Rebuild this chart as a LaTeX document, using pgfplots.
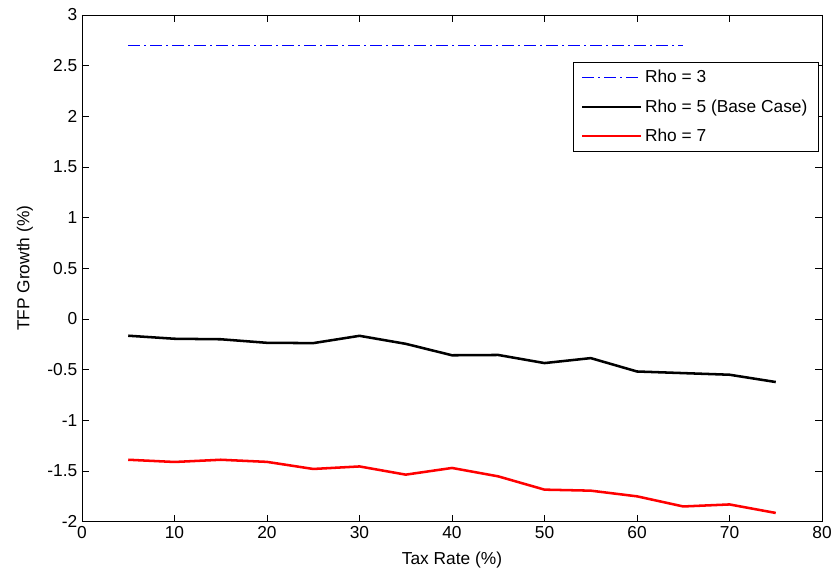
\documentclass[border=0pt]{standalone}
\usepackage{fontspec}
\setmainfont{Liberation Sans}
\usepackage{pgfplots}
\pgfplotsset{compat=1.18}
\usetikzlibrary{calc}
\definecolor{rhoblue}{RGB}{0,0,255}

\begin{document}
\begin{tikzpicture}
\begin{axis}[
    scale only axis,
    width=555pt, height=380pt,
    xmin=0, xmax=80, ymin=-2, ymax=3,
    xtick={0,10,...,80},
    ytick={-2,-1.5,...,3},
    yticklabels={-2,-1.5,-1,-0.5,0,0.5,1,1.5,2,2.5,3},
    tick align=inside,
    major tick length=5pt,
    axis line style={black, line width=0.6pt},
    every tick/.style={black, line width=0.6pt},
    tick label style={font=\fontsize{13}{15}\selectfont},
    /pgf/number format/assume math mode=true,
    xlabel={Tax Rate (\%)},
    ylabel={TFP Growth (\%)},
    label style={font=\fontsize{13}{15}\selectfont},
    xlabel style={yshift=-3pt},
    ylabel style={yshift=4pt},
    legend style={at={(0.995,0.907)}, anchor=north east, draw=black,
        font=\fontsize{13}{15}\selectfont, row sep=7pt,
        inner xsep=6pt, inner ysep=4pt},
    legend cell align={left},
    legend image code/.code={\draw[#1] (0pt,0pt) -- (44pt,0pt);},
]
\addplot[draw=rhoblue, line width=1.2pt, dash pattern=on 9pt off 3pt on 1.5pt off 3pt] coordinates {
    (5,2.70) (65,2.70)
};
\addlegendentry{Rho = 3}
\addplot[black, line width=1.9pt] coordinates {
    (5,-0.165) (10,-0.195) (15,-0.20) (20,-0.235) (25,-0.238) (30,-0.166)
    (35,-0.245) (40,-0.358) (45,-0.355) (50,-0.435) (55,-0.386) (60,-0.518)
    (65,-0.534) (70,-0.55) (75,-0.622)
};
\addlegendentry{Rho = 5 (Base Case)}
\addplot[red, line width=1.9pt] coordinates {
    (5,-1.389) (10,-1.411) (15,-1.389) (20,-1.41) (25,-1.48) (30,-1.455)
    (35,-1.536) (40,-1.47) (45,-1.553) (50,-1.684) (55,-1.694) (60,-1.75)
    (65,-1.85) (70,-1.83) (75,-1.914)
};
\addlegendentry{Rho = 7}
\coordinate (sw) at (rel axis cs:0,0);
\coordinate (ne) at (rel axis cs:1,1);
\end{axis}
\pgfresetboundingbox
\path ($(sw)+(-61.5pt,-41.25pt)$) rectangle ($(ne)+(13.5pt,11.25pt)$);
\end{tikzpicture}
\end{document}
